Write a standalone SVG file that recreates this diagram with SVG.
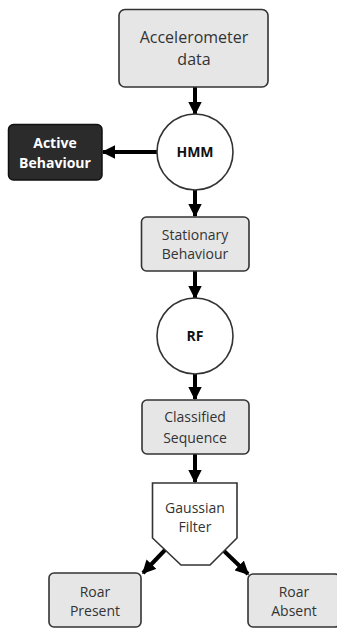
<svg xmlns="http://www.w3.org/2000/svg" width="337" height="628" viewBox="0 0 337 628">
<defs>
<style>
.box{fill:#e6e6e6;stroke:#333;stroke-width:1.6}
.circ{fill:#fff;stroke:#333;stroke-width:1.6}
.t{font-family:"Open Sans","Liberation Sans",sans-serif;font-size:14px;fill:#333;text-anchor:middle}
.b{font-weight:bold;fill:#111}
.w{font-weight:bold;fill:#fff}
.ln{stroke:#000;stroke-width:4;fill:none}
</style>
<marker id="ah" viewBox="0 0 10 10" refX="9" refY="5" markerWidth="3.4" markerHeight="3.4" orient="auto" markerUnits="strokeWidth">
<path d="M0,0 L10,5 L0,10 z" fill="#000"/>
</marker>
</defs>
<rect width="337" height="628" fill="#fff"/>
<g id="connectors">
<line class="ln" x1="195" y1="87" x2="195" y2="114" marker-end="url(#ah)"/>
<line class="ln" x1="157" y1="152" x2="103" y2="152" marker-end="url(#ah)"/>
<line class="ln" x1="195" y1="189" x2="195" y2="216" marker-end="url(#ah)"/>
<line class="ln" x1="195" y1="271" x2="195" y2="298" marker-end="url(#ah)"/>
<line class="ln" x1="195" y1="373" x2="195" y2="399" marker-end="url(#ah)"/>
<line class="ln" x1="195" y1="454" x2="195" y2="482" marker-end="url(#ah)"/>
<line class="ln" x1="165" y1="550" x2="143" y2="573" marker-end="url(#ah)"/>
<line class="ln" x1="223" y1="550" x2="248" y2="574" marker-end="url(#ah)"/>
</g>
<g id="accelerometer">
<rect class="box" x="119" y="9.5" width="149" height="77.5" rx="6"/>
<text class="t" x="194" y="43" font-size="16" style="font-size:16px">Accelerometer</text>
<text class="t" x="194" y="65" style="font-size:16px">data</text>
</g>
<g id="hmm">
<circle class="circ" cx="195" cy="152" r="38"/>
<text class="t b" x="195" y="157">HMM</text>
</g>
<g id="active">
<rect x="8.5" y="124.5" width="93.5" height="55.5" rx="5" fill="#2b2b2b" stroke="#111" stroke-width="1.5"/>
<text class="t w" x="55" y="148">Active</text>
<text class="t w" x="55" y="168">Behaviour</text>
</g>
<g id="stationary">
<rect class="box" x="141.5" y="217" width="107.5" height="54" rx="5"/>
<text class="t" x="195" y="240">Stationary</text>
<text class="t" x="195" y="259">Behaviour</text>
</g>
<g id="rf">
<circle class="circ" cx="195" cy="336" r="38"/>
<text class="t b" x="195" y="341">RF</text>
</g>
<g id="classified">
<rect class="box" x="142" y="400" width="107" height="54" rx="5"/>
<text class="t" x="195" y="422">Classified</text>
<text class="t" x="195" y="443">Sequence</text>
</g>
<g id="gaussian">
<path class="circ" d="M152.5,483 L237,483 L237,538 L210,565 L181,565 L152.5,538 Z"/>
<text class="t" x="195" y="513">Gaussian</text>
<text class="t" x="195" y="532">Filter</text>
</g>
<g id="roar-present">
<rect class="box" x="49" y="573" width="92" height="54" rx="5"/>
<text class="t" x="95" y="597">Roar</text>
<text class="t" x="95" y="616">Present</text>
</g>
<g id="roar-absent">
<rect class="box" x="248" y="574" width="92" height="53" rx="5"/>
<text class="t" x="294" y="597">Roar</text>
<text class="t" x="294" y="616">Absent</text>
</g>
</svg>
